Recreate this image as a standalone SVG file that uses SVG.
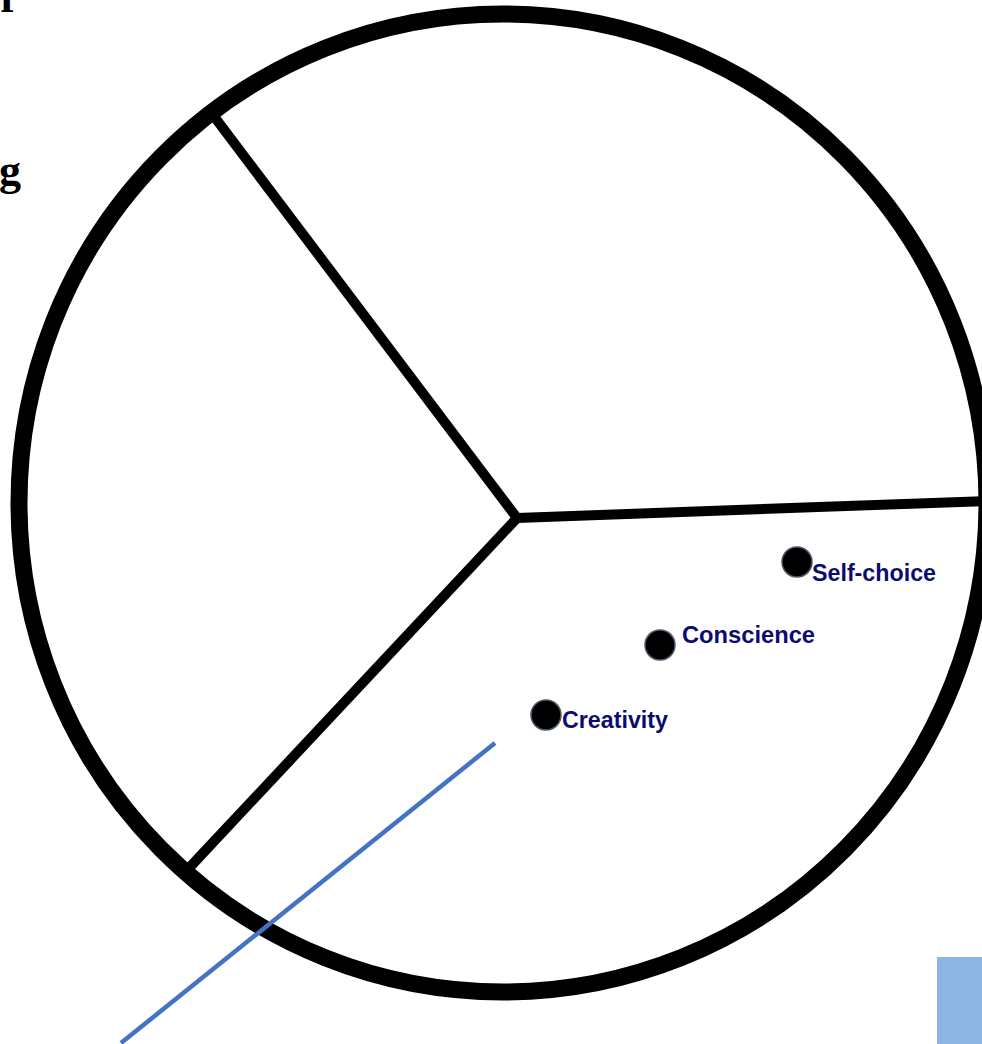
<svg xmlns="http://www.w3.org/2000/svg" width="982" height="1044" viewBox="0 0 982 1044">
<style>
.ring{fill:none;stroke:#000;stroke-width:17}
.div{stroke:#000;stroke-width:10;stroke-linecap:butt;fill:none}
.dot{fill:#000;stroke:#4a5868;stroke-width:1.5}
.lbl{font-family:"Liberation Sans",Arial,sans-serif;font-weight:bold;font-size:23px;fill:#0c0c6e}
.doc{font-family:"Liberation Serif","Times New Roman",serif;font-weight:bold;font-size:44px;fill:#000}
</style>
<rect width="982" height="1044" fill="#fff"/>
<text class="doc" x="15" y="12" text-anchor="end">of</text>
<text class="doc" x="-1" y="185">g</text>
<g id="pie">
<ellipse class="ring" cx="503" cy="503" rx="484" ry="489"/>
</g>
<g id="connectors">
<line class="div" x1="517" y1="518" x2="213" y2="115"/>
<line class="div" x1="517" y1="518" x2="986" y2="501"/>
<line class="div" x1="517" y1="518" x2="190" y2="867"/>
<line x1="495" y1="743" x2="121" y2="1043" stroke="#4472c4" stroke-width="4.5"/>
</g>
<g id="self-choice">
<circle class="dot" cx="797" cy="562" r="15"/>
<text class="lbl" x="812" y="581" textLength="124" lengthAdjust="spacingAndGlyphs">Self-choice</text>
</g>
<g id="conscience">
<circle class="dot" cx="660" cy="645" r="15"/>
<text class="lbl" x="682" y="643" textLength="133" lengthAdjust="spacingAndGlyphs">Conscience</text>
</g>
<g id="creativity">
<circle class="dot" cx="546" cy="715" r="15"/>
<text class="lbl" x="562" y="728" textLength="106" lengthAdjust="spacingAndGlyphs">Creativity</text>
</g>
<rect x="937" y="957" width="45" height="87" fill="#8eb4e3"/>
</svg>
